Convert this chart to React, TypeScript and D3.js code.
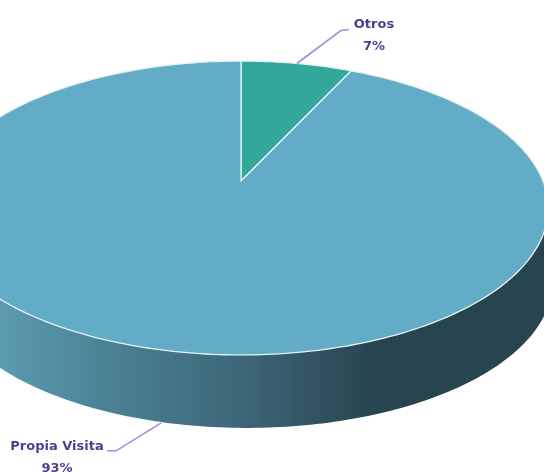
import React, { useMemo } from "react"
import * as d3 from "d3"

const categories = ["Otros", "Propia Visita"]
const shares = [7, 93]
const sliceColors = ["#33a89b", "#63acc8"]

const width = 544
const height = 472

// the pie is seen in perspective, so its centre sits above the middle of the ellipse
const cx = 241
const cy = 181
const scaleX = 302
const scaleY = 142
const tilt = 0.1837
const depth = 74
const bottomRim = 0.995
const bottomShift = 6

const project = (t: number, r = 1, dy = 0, dx = 0): [number, number] => {
  const d = 1 + tilt * r * Math.cos(t)
  return [cx + dx + (scaleX * r * Math.sin(t)) / d, cy + dy - (scaleY * r * Math.cos(t)) / d]
}

const sampleAngles = (a: number, b: number) => {
  const n = Math.max(2, Math.ceil(Math.abs(b - a) * 60))
  return d3.range(n + 1).map((i) => a + ((b - a) * i) / n)
}

const line = d3.line<[number, number]>()

export default function App() {
  const slices = useMemo(
    () => d3.pie<number>().sort(null)(shares),
    []
  )

  const tangent = Math.acos(-tilt)
  const wallTop = sampleAngles(tangent, 2 * Math.PI - tangent).map((t) => project(t))
  const wallBottom = sampleAngles(2 * Math.PI - tangent, tangent).map((t) =>
    project(t, bottomRim, depth, bottomShift)
  )
  const wallPath = line([...wallTop, ...wallBottom]) + "Z"

  const midOtros = (slices[0].startAngle + slices[0].endAngle) / 2
  const midPropia = (slices[1].startAngle + slices[1].endAngle) / 2
  const [ox, oy] = project(midOtros)
  const [px, py] = project(midPropia, bottomRim, depth)

  const textStyle = {
    fontFamily: "'DejaVu Sans', sans-serif",
    fontWeight: 700,
    fontSize: 13,
    fill: "#4b3f90",
  }

  return (
    <svg
      width={width}
      height={height}
      viewBox={`0 0 ${width} ${height}`}
      style={{ position: "absolute", left: 0, top: 0, background: "#fff" }}
    >
      <defs>
        <linearGradient id="wall" gradientUnits="userSpaceOnUse" x1={0} x2={width} y1={0} y2={0}>
          <stop offset="0" stopColor="#5a9bb0" />
          <stop offset="0.22" stopColor="#497f91" />
          <stop offset="0.45" stopColor="#3c6677" />
          <stop offset="0.68" stopColor="#27454f" />
          <stop offset="1" stopColor="#27454f" />
        </linearGradient>
        <filter id="soft" x="-5%" y="-5%" width="110%" height="110%">
          <feGaussianBlur stdDeviation="0.55" />
        </filter>
      </defs>
      <g filter="url(#soft)">
        <path d={wallPath} fill="url(#wall)" />
        {slices.map((s, i) => {
          const edge = sampleAngles(s.startAngle, s.endAngle).map((t) => project(t))
          return (
            <path
              key={categories[i]}
              d={line([[cx, cy], ...edge]) + "Z"}
              fill={sliceColors[i]}
              stroke="#e4f1f4"
              strokeWidth={1.3}
              strokeLinejoin="round"
            />
          )
        })}
        <path
          d={line([[ox, oy], [ox + 44, oy - 33], [ox + 52, oy - 34]]) ?? ""}
          fill="none"
          stroke="#9c8de0"
          strokeWidth={1.6}
        />
        <path
          d={line([[px, py], [px - 45, py + 28], [px - 54, py + 28]]) ?? ""}
          fill="none"
          stroke="#9c8de0"
          strokeWidth={1.6}
        />
        <text x={374} y={28} textAnchor="middle" style={textStyle}>{categories[0]}</text>
        <text x={374} y={50} textAnchor="middle" style={textStyle}>{shares[0]}%</text>
        <text x={57} y={450} textAnchor="middle" style={textStyle}>{categories[1]}</text>
        <text x={57} y={472} textAnchor="middle" style={textStyle}>{shares[1]}%</text>
      </g>
    </svg>
  )
}
